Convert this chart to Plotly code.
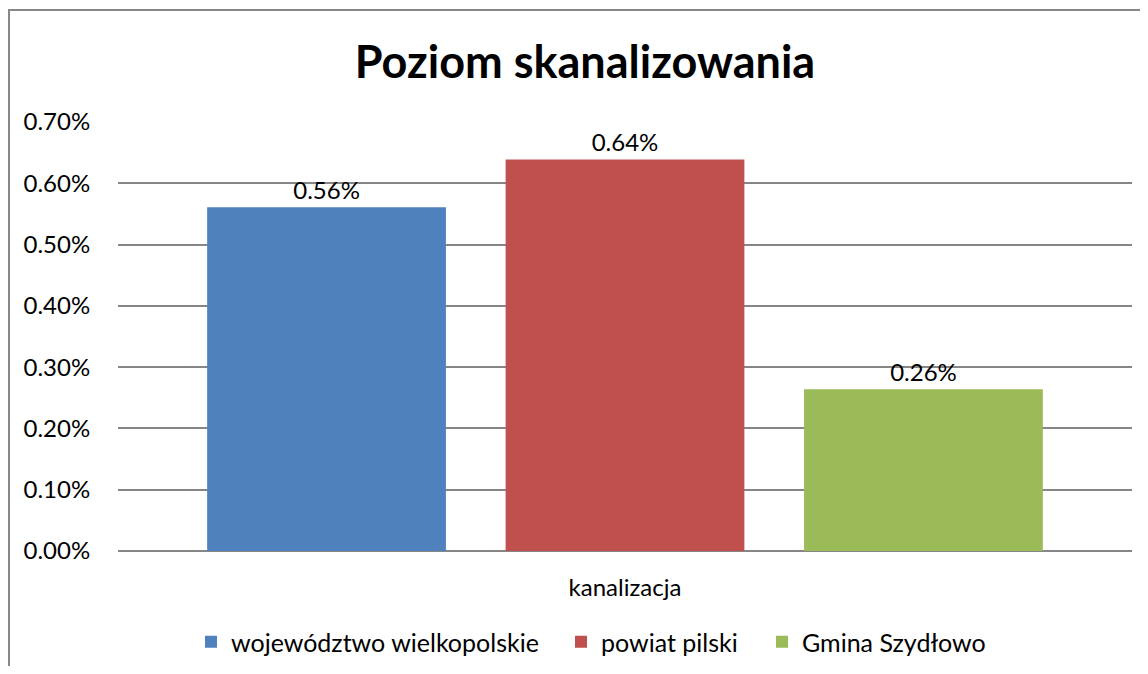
import plotly.graph_objects as go

# data
category = ["kanalizacja"]
series_names = ["województwo wielkopolskie", "powiat pilski", "Gmina Szydłowo"]
series_values = [0.561, 0.639, 0.264]  # percent
series_colors = ["#4F81BD", "#C0504D", "#9BBB59"]
y_ticks = [0.0, 0.1, 0.2, 0.3, 0.4, 0.5, 0.6, 0.7]
y_ticktext = ["%.2f%%" % v for v in y_ticks]

# the page body adds an 8px margin on every side; keep the figure inside the
# window so no scrollbars appear
OFF = 8
W, H = 1148 - 2 * OFF, 674 - 2 * OFF
ml, mr, mt, mb = 110, 8, 114, 115
pw, ph = W - ml - mr, H - mt - mb
font = "Lato"

# one legend per series so the entries sit where the reference puts them
legend_ids = ["legend", "legend2", "legend3"]
legend_px = [211, 581, 782]  # screen x of each legend swatch centre

fig = go.Figure()
for name, val, clr, lid in zip(series_names, series_values, series_colors, legend_ids):
    fig.add_trace(
        go.Bar(
            name=name,
            x=category,
            y=[val],
            legend=lid,
            marker=dict(color=clr, line=dict(width=0)),
            texttemplate="%{y:.2f}%",
            textposition="outside",
            textfont=dict(family=font, size=24, color="#000000"),
            cliponaxis=False,
        )
    )

# chart border (left and top edges of the excel chart frame are visible)
bx0 = (1 - ml) / pw
bx1 = (W - ml) / pw
by0 = -(H - mt - ph) / ph
by1 = (mt + ph - 2) / ph
fig.add_shape(
    type="path",
    xref="paper",
    yref="paper",
    path="M %f,%f L %f,%f L %f,%f" % (bx0, by0, bx0, by1, bx1, by1),
    line=dict(color="#878787", width=2),
    layer="below",
)

legend_y = (ph - (634 - mt)) / ph
legends = {}
for lid, px in zip(legend_ids, legend_px):
    legends[lid] = dict(
        orientation="h",
        x=(px - 20 - OFF - ml) / pw,
        xanchor="left",
        y=legend_y,
        yanchor="middle",
        font=dict(family=font, size=25, color="#000000"),
        bgcolor="rgba(0,0,0,0)",
    )

fig.update_layout(
    width=W,
    height=H,
    margin=dict(l=ml, r=mr, t=mt, b=mb, autoexpand=False),
    paper_bgcolor="white",
    plot_bgcolor="white",
    barmode="group",
    bargap=0.117,
    bargroupgap=0.2,
    font=dict(family=font, size=24, color="#000000"),
    title=dict(
        text="<b>Poziom skanalizowania</b>",
        x=577 / W,
        xanchor="center",
        xref="container",
        y=1 - 54 / H,
        yanchor="middle",
        yref="container",
        font=dict(family=font, size=45, color="#000000"),
    ),
    showlegend=True,
    xaxis=dict(
        showgrid=False,
        showline=False,
        ticks="outside",
        ticklen=15,
        tickcolor="rgba(0,0,0,0)",
        tickfont=dict(family=font, size=24),
    ),
    yaxis=dict(
        range=[0, 0.7],
        tickvals=y_ticks,
        ticktext=y_ticktext,
        showgrid=True,
        gridcolor="#868686",
        gridwidth=2,
        zeroline=True,
        zerolinecolor="#868686",
        zerolinewidth=2,
        showline=False,
        ticks="outside",
        ticklen=22,
        tickcolor="rgba(0,0,0,0)",
        tickfont=dict(family=font, size=24),
    ),
    **legends,
)

fig.write_html("out.html")
